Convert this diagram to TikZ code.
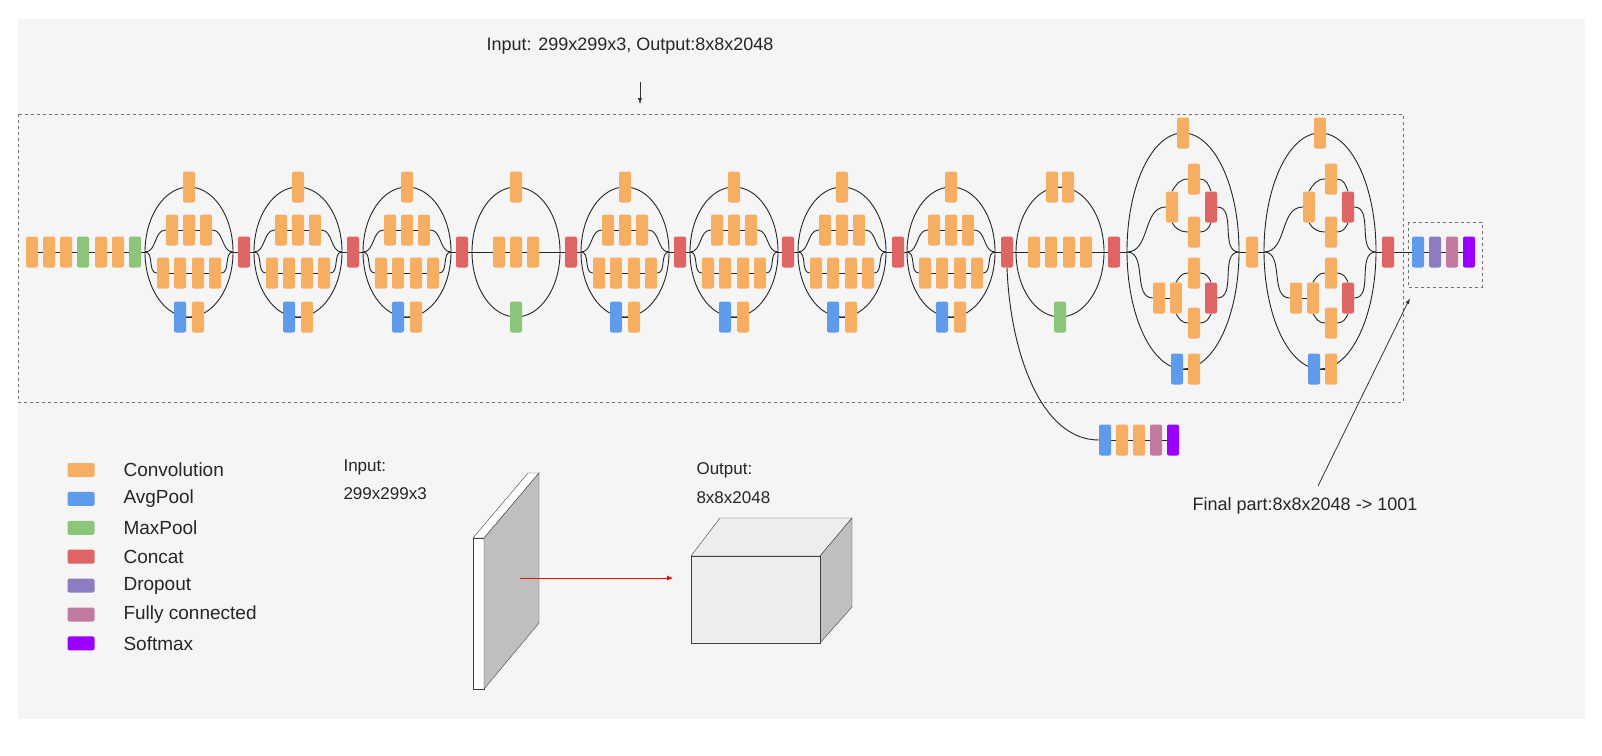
\documentclass[tikz,border=0pt]{standalone}
\usepackage{fontspec}
\setmainfont{Liberation Sans}
\usetikzlibrary{arrows.meta}
\definecolor{cconv}{HTML}{F6AE62}
\definecolor{cavg}{HTML}{5E9BEB}
\definecolor{cmax}{HTML}{8CC47A}
\definecolor{ccat}{HTML}{DF6464}
\definecolor{cdrop}{HTML}{8E7CC3}
\definecolor{cfc}{HTML}{C27BA0}
\definecolor{csoft}{HTML}{9B00FF}
\definecolor{bgc}{HTML}{F5F5F5}
\pgfdeclarelayer{back}
\pgfdeclarelayer{bg}
\pgfsetlayers{back,bg,main}
\tikzset{
 blk/.style={rectangle,rounded corners=2pt,minimum width=12pt,minimum height=31pt,inner sep=0pt,draw=none},
 conv/.style={blk,fill=cconv}, avg/.style={blk,fill=cavg}, maxp/.style={blk,fill=cmax},
 cat/.style={blk,fill=ccat}, drop/.style={blk,fill=cdrop}, fc/.style={blk,fill=cfc}, soft/.style={blk,fill=csoft},
 ln/.style={draw=black!85,line width=0.9pt},
 dbox/.style={draw=black!55,dashed,line width=0.8pt},
 lab/.style={font=\fontsize{18}{21}\selectfont,text=black!85},
 leg/.style={rectangle,rounded corners=2pt,minimum width=27pt,minimum height=14pt,inner sep=0pt},
}
\newcommand\ModA[2]{%
 \node[conv] (#1t) at (#2,187) {};
 \node[conv] (#1r1) at ({#2-17},230) {}; \node[conv] (#1r2) at (#2,230) {}; \node[conv] (#1r3) at ({#2+17},230) {};
 \node[conv] (#1s1) at ({#2-26},273) {}; \node[conv] (#1s2) at ({#2-9},273) {};
 \node[conv] (#1s3) at ({#2+9},273) {}; \node[conv] (#1s4) at ({#2+26},273) {};
 \node[avg] (#1p) at ({#2-9},317) {}; \node[conv] (#1q) at ({#2+9},317) {};
 \coordinate (#1L) at ({#2-44},252); \coordinate (#1R) at ({#2+44},252);
 \begin{pgfonlayer}{bg}
 \draw[ln] (#2,252) ellipse[x radius=44,y radius=65];
 \draw[ln] (#1r1)--(#1r2)--(#1r3) (#1s1)--(#1s2)--(#1s3)--(#1s4) (#1p)--(#1q);
 \draw[ln] (#1L) to[out=0,in=180] (#1r1.west) (#1r3.east) to[out=0,in=180] (#1R);
 \draw[ln] (#1L) to[out=0,in=180] (#1s1.west) (#1s4.east) to[out=0,in=180] (#1R);
 \end{pgfonlayer}}
\newcommand\RedA[2]{%
 \node[conv] (#1t) at (#2,187) {};
 \node[conv] (#1r1) at ({#2-17},252) {}; \node[conv] (#1r2) at (#2,252) {}; \node[conv] (#1r3) at ({#2+17},252) {};
 \node[maxp] (#1p) at (#2,317) {};
 \coordinate (#1L) at ({#2-44},252); \coordinate (#1R) at ({#2+44},252);
 \begin{pgfonlayer}{bg}
 \draw[ln] (#2,252) ellipse[x radius=44,y radius=65];
 \draw[ln] (#1L)--(#1r1)--(#1r2)--(#1r3)--(#1R);
 \end{pgfonlayer}}
\newcommand\RedB[2]{%
 \node[conv] (#1t1) at ({#2-8},187) {}; \node[conv] (#1t2) at ({#2+8},187) {};
 \node[conv] (#1r1) at ({#2-26},252) {}; \node[conv] (#1r2) at ({#2-9},252) {};
 \node[conv] (#1r3) at ({#2+9},252) {}; \node[conv] (#1r4) at ({#2+26},252) {};
 \node[maxp] (#1p) at (#2,317) {};
 \coordinate (#1L) at ({#2-44},252); \coordinate (#1R) at ({#2+44},252);
 \begin{pgfonlayer}{bg}
 \draw[ln] (#2,252) ellipse[x radius=44,y radius=65];
 \draw[ln] (#1L)--(#1r1)--(#1r2)--(#1r3)--(#1r4)--(#1R) (#1t1)--(#1t2);
 \end{pgfonlayer}}
\newcommand\ModC[2]{%
 \node[conv] (#1t) at (#2,133) {};
 \node[conv] (#1a) at ({#2-11},207) {}; \node[conv] (#1b) at ({#2+11},179) {};
 \node[conv] (#1c) at ({#2+11},232) {}; \node[cat] (#1d) at ({#2+28},207) {};
 \node[conv] (#1e) at ({#2-24},298) {}; \node[conv] (#1f) at ({#2-7},298) {};
 \node[conv] (#1g) at ({#2+11},273) {}; \node[conv] (#1h) at ({#2+11},323) {};
 \node[cat] (#1k) at ({#2+28},298) {};
 \node[avg] (#1p) at ({#2-6},369) {}; \node[conv] (#1q) at ({#2+11},369) {};
 \coordinate (#1L) at ({#2-56},252); \coordinate (#1R) at ({#2+56},252);
 \begin{pgfonlayer}{bg}
 \draw[ln] (#2,251) ellipse[x radius=56,y radius=118];
 \draw[ln] (#1L) to[out=0,in=180] (#1a.west) (#1d.east) to[out=0,in=180] (#1R);
 \draw[ln] (#1L) to[out=0,in=180] (#1e.west) (#1k.east) to[out=0,in=180] (#1R);
 \draw[ln] (#1a.north) to[out=60,in=180] (#1b.west) (#1b.east) to[out=0,in=110] (#1d.north);
 \draw[ln] (#1a.south) to[out=-60,in=180] (#1c.west) (#1c.east) to[out=0,in=-110] (#1d.south);
 \draw[ln] (#1e)--(#1f);
 \draw[ln] (#1f.north) to[out=60,in=180] (#1g.west) (#1g.east) to[out=0,in=110] (#1k.north);
 \draw[ln] (#1f.south) to[out=-60,in=180] (#1h.west) (#1h.east) to[out=0,in=-110] (#1k.south);
 \draw[ln] (#1p)--(#1q);
 \end{pgfonlayer}}
\begin{document}
\begin{tikzpicture}[x=1pt,y=-1pt]
\useasboundingbox (0,0) rectangle (1602,755);
\begin{pgfonlayer}{back}
\fill[white] (0,0) rectangle (1602,755);
\fill[bgc] (18,19) rectangle (1585,719);
\draw[dbox] (18,114) rectangle (1403,402);
\draw[dbox] (1408,222) rectangle (1482,287);
\end{pgfonlayer}
\node[lab] (toplab) at (630,46) {Input: 299x299x3, Output:8x8x2048};
\coordinate (toparr) at (640,104);
\draw[-{Latex[length=6pt,width=4pt]},black!80] (640,82) -- (toparr);
\node[conv] (s1) at (32,252) {}; \node[conv] (s2) at (49,252) {}; \node[conv] (s3) at (66,252) {};
\node[maxp] (s4) at (83,252) {}; \node[conv] (s5) at (101,252) {}; \node[conv] (s6) at (118,252) {};
\node[maxp] (s7) at (135,252) {};
\begin{pgfonlayer}{bg}\draw[ln] (s1)--(s2)--(s3)--(s4)--(s5)--(s6)--(s7);\end{pgfonlayer}
\ModA{m1}{189} \ModA{m2}{298} \ModA{m3}{407}
\RedA{m4}{516}
\ModA{m5}{625} \ModA{m6}{734} \ModA{m7}{842} \ModA{m8}{951}
\RedB{m9}{1060}
\ModC{mc}{1183} \ModC{md}{1320}
\node[cat] (c1) at (244,252) {}; \node[cat] (c2) at (353,252) {}; \node[cat] (c3) at (462,252) {};
\node[cat] (c4) at (571,252) {}; \node[cat] (c5) at (680,252) {}; \node[cat] (c6) at (788,252) {};
\node[cat] (c7) at (898,252) {}; \node[cat] (c8) at (1007,252) {}; \node[cat] (c9) at (1114,252) {};
\node[conv] (co) at (1252,252) {};
\node[cat] (c10) at (1388,252) {};
\node[avg] (f1) at (1418,252) {}; \node[drop] (f2) at (1435,252) {};
\node[fc] (f3) at (1452,252) {}; \node[soft] (f4) at (1469,252) {};
\begin{pgfonlayer}{bg}
\draw[ln] (s7)--(m1L) (m1R)--(c1)--(m2L) (m2R)--(c2)--(m3L) (m3R)--(c3)--(m4L) (m4R)--(c4)--(m5L)
 (m5R)--(c5)--(m6L) (m6R)--(c6)--(m7L) (m7R)--(c7)--(m8L) (m8R)--(c8)--(m9L) (m9R)--(c9)--(mcL)
 (mcR)--(co)--(mdL) (mdR)--(c10)--(f1)--(f2)--(f3)--(f4);
\end{pgfonlayer}
\node[avg] (x1) at (1105,440) {}; \node[conv] (x2) at (1122,440) {}; \node[conv] (x3) at (1139,440) {};
\node[fc] (x4) at (1156,440) {}; \node[soft] (x5) at (1173,440) {};
\begin{pgfonlayer}{bg}
\draw[ln] (c8.south) .. controls (1010,350) and (1040,440) .. (x1.west);
\draw[ln] (x1)--(x2)--(x3)--(x4)--(x5);
\end{pgfonlayer}
\node[lab] (finlab) at (1305,506) {Final part:8x8x2048 -> 1001};
\coordinate (finA) at (1318,486); \coordinate (finB) at (1410,298);
\draw[-{Latex[length=6pt,width=4pt]},black!80,line width=0.8pt] (finA) -- (finB);
\foreach \c/\t [count=\i] in {cconv/Convolution,cavg/AvgPool,cmax/MaxPool,ccat/Concat,cdrop/Dropout,cfc/Fully connected,csoft/Softmax}{
 \node[leg,fill=\c] (lg\i) at (81,{470+28.9*(\i-1)}) {};
 \node[lab,anchor=west,font=\fontsize{19}{22}\selectfont] (lt\i) at (120,{470+28.9*(\i-1)}) {\t};
}
\node[lab,anchor=north west,align=left,font=\fontsize{17}{28}\selectfont] (inlab) at (340,456) {Input:\\299x299x3};
\filldraw[fill=white,draw=black!75] (473,538) -- (528,473) -- (539,473) -- (484,538) -- cycle;
\filldraw[fill=white,draw=black!75] (473,538) rectangle (484,689);
\filldraw[fill=black!25,draw=black!75] (484,538) -- (539,473) -- (539,623) -- (484,689) -- cycle;
\node[lab,anchor=north west,align=left,font=\fontsize{17}{29}\selectfont] (outlab) at (693,459) {Output:\\8x8x2048};
\filldraw[fill=black!7,draw=black!75] (691,556) -- (720,518) -- (852,518) -- (820,556) -- cycle;
\filldraw[fill=black!25,draw=black!75] (820,556) -- (852,518) -- (852,607) -- (820,643) -- cycle;
\filldraw[fill=black!7,draw=black!75] (691,556) rectangle (820,643);
\coordinate (arS) at (520,578); \coordinate (arE) at (673,578);
\draw[red,line width=0.9pt,-{Latex[length=6pt,width=5pt]}] (arS) -- (arE);
\end{tikzpicture}
\end{document}
